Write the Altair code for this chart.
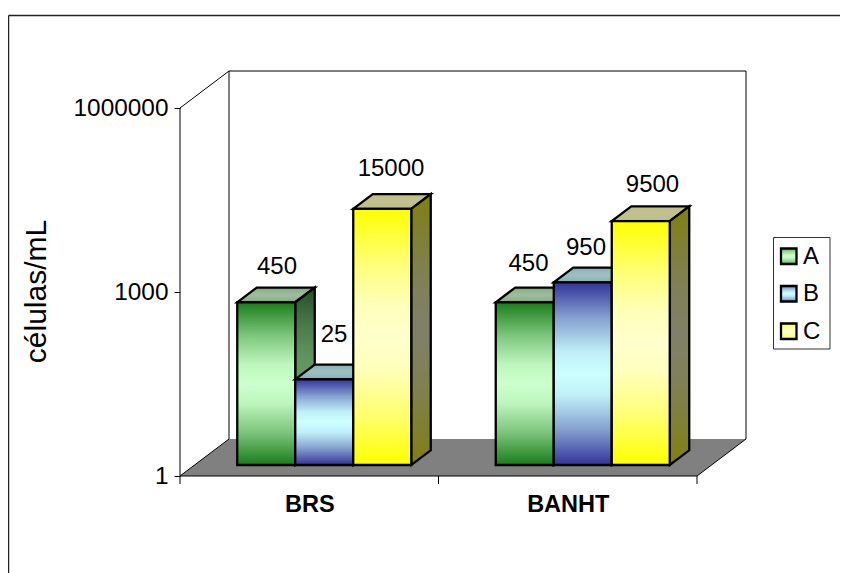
import altair as alt
import pandas as pd

categories = ["BRS", "BANHT"]
series = ["A", "B", "C"]
values_a = [450, 450]
values_b = [25, 950]
values_c = [15000, 9500]
y_ticks = [1, 1000, 1000000]
y_title = "células/mL"
FONT = "Liberation Sans"
FS = 24

# geometry of the pseudo-3D box, in pixels, converted to scale units below
W, H = 832, 565
OX, OY = 172, 468          # pixel position of (0, value 1) in the plot group
PXU = 258.5                # pixels per category
PXD = 61.33                # pixels per decade
WALL_DX, WALL_DY = 49, 37
PLANE_DX, PLANE_DY = 15, 11
BAR_DX, BAR_DY = 19.5, 14.7
BAR_W = 58 / PXU
GAP = 42.25 / PXU
SW = 2.3
# fine placement of the value labels (pixels, by category then series)
LABEL_NUDGE = {
    (0, 0): (1, 0.5), (0, 1): (0, -8), (0, 2): (-1, -4),
    (1, 0): (-6, -2), (1, 1): (-6.5, 1.5), (1, 2): (2, 0),
}


def ux(px):
    return px / PXU


def lift(v, px):
    return v * 10 ** (px / PXD)


xs = alt.Scale(domain=[-OX / PXU, (W - OX) / PXU], nice=False, zero=False)
ys = alt.Scale(type="log", nice=False,
               domain=[10 ** (-(H - OY) / PXD), 10 ** (OY / PXD)])


def mix(c1, c2, t):
    a = [int(c1[i:i + 2], 16) for i in (1, 3, 5)]
    b = [int(c2[i:i + 2], 16) for i in (1, 3, 5)]
    return "#" + "".join(f"{round(p + (q - p) * t):02x}" for p, q in zip(a, b))


def grad(ends, mid, start=0.0):
    stops = [(0, start), (0.2, 0.55 + 0.45 * start), (0.38, 0.92), (0.5, 1), (0.62, 0.92), (0.8, 0.55 + 0.45 * start), (1, start)]
    return alt.Gradient(gradient="linear", x1=0, y1=0, x2=0, y2=1, stops=[
        alt.GradientStop(color=mix(ends, mid, t), offset=o) for o, t in stops])


colors = {"A": ("#1a7d1a", "#ccffcc"), "B": ("#333399", "#ccffff"), "C": ("#ffff00", "#ffffcc")}
front = {k: grad(*v) for k, v in colors.items()}
legend_fill = {k: grad(*v, start=0.35) for k, v in colors.items()}
side = {"A": grad("#264d26", "#669966"), "B": grad("#1a1a4d", "#668080"), "C": grad("#808010", "#808066")}
top = {"A": grad("#7fa57f", "#9cbc9c"), "B": grad("#86adb0", "#9cc0c0"), "C": grad("#bdbd80", "#c0c090")}

cat_expr = f"datum.value < 1 ? '{categories[0]}' : '{categories[1]}'"
xaxis = alt.Axis(
    values=[0.5, 1.5], labelExpr=cat_expr, title=None, grid=False, domain=False, ticks=False,
    offset=-(H - OY), labelPadding=16, labelFont=FONT, labelFontSize=23.5, labelFontWeight="bold",
    labelColor="black", labelOverlap=False, labelFlush=False)
yaxis = alt.Axis(
    values=y_ticks, format="d", title=y_title, grid=False, domain=False, offset=-OX,
    tickSize=6, tickColor="black", labelPadding=6, labelFont=FONT, labelFontSize=24.4,
    labelColor="black", labelOverlap=False, labelFlush=False,
    titleFont=FONT, titleFontSize=30, titleFontWeight="normal", titleColor="black",
    titleX=-144, titleY=283, titleAngle=270, titleAlign="center", titleBaseline="middle")

X = lambda f: alt.X(f, scale=xs, axis=xaxis)
Y = lambda f: alt.Y(f, scale=ys, axis=yaxis, stack=None)
X2 = lambda f: alt.X2(f)
Y2 = lambda f: alt.Y2(f)

layers = []

# floor
floor = pd.DataFrame({"y": [1, lift(1, WALL_DY)], "x": [0, ux(WALL_DX)], "x2": [2, 2 + ux(WALL_DX)]})
layers.append(alt.Chart(floor).mark_area(orient="horizontal", fill="#808080").encode(
    x=X("x:Q"), x2=X2("x2:Q"), y=Y("y:Q")))

# wall and floor outlines
dxw = ux(WALL_DX)
ytop, yback, ytick = lift(1e6, WALL_DY), lift(1, WALL_DY), lift(1, -8)
lines = pd.DataFrame(
    [(0, 1e6, 0, ytick), (0, 1e6, dxw, ytop), (dxw, ytop, dxw, yback), (dxw, ytop, 2 + dxw, ytop),
     (2 + dxw, ytop, 2 + dxw, yback), (0, 1, dxw, yback), (2, 1, 2 + dxw, yback), (0, 1, 2, 1),
     (1, 1, 1, ytick), (2, 1, 2, ytick)],
    columns=["x", "y", "x2", "y2"])
layers.append(alt.Chart(lines).mark_rule(color="black", strokeWidth=1).encode(
    x=X("x:Q"), y=Y("y:Q"), x2=X2("x2:Q"), y2=Y2("y2:Q")))

# bars
all_values = {"A": values_a, "B": values_b, "C": values_c}
labels = []
dxb, dxp = ux(BAR_DX), ux(PLANE_DX)
for ci, cat in enumerate(categories):
    for si, s in enumerate(series):
        v = all_values[s][ci]
        x0 = ci + GAP + dxp + si * BAR_W
        x1 = x0 + BAR_W
        vf = lift(v, PLANE_DY)
        vb = lift(v, PLANE_DY + BAR_DY)
        bf = lift(1, PLANE_DY)
        bb = lift(1, PLANE_DY + BAR_DY)
        tdf = pd.DataFrame({"y": [vf, vb], "x": [x0, x0 + dxb], "x2": [x1, x1 + dxb]})
        layers.append(alt.Chart(tdf).mark_area(orient="horizontal", fill=top[s], stroke="black", strokeWidth=SW,
                                               strokeJoin="miter").encode(
            x=X("x:Q"), x2=X2("x2:Q"), y=Y("y:Q")))
        sdf = pd.DataFrame({"x": [x1, x1 + dxb], "y": [vf, vb], "y2": [bf, bb]})
        layers.append(alt.Chart(sdf).mark_area(orient="vertical", fill=side[s], stroke="black", strokeWidth=SW,
                                               strokeJoin="miter").encode(
            x=X("x:Q"), y=Y("y:Q"), y2=Y2("y2:Q")))
        fdf = pd.DataFrame({"x": [x0], "x2": [x1], "y": [vf], "y2": [bf]})
        layers.append(alt.Chart(fdf).mark_rect(fill=front[s], stroke="black", strokeWidth=SW).encode(
            x=X("x:Q"), x2=X2("x2:Q"), y=Y("y:Q"), y2=Y2("y2:Q")))
        ndx, ndy = LABEL_NUDGE[(ci, si)]
        labels.append({"x": (x0 + x1) / 2 + dxb / 2 + ux(ndx), "y": lift(vf, 36 - ndy), "t": str(v)})

layers.append(alt.Chart(pd.DataFrame(labels)).mark_text(font=FONT, fontSize=FS, color="black", baseline="middle").encode(
    x=X("x:Q"), y=Y("y:Q"), text="t:N"))

# outer frame (top and left edges are the ones inside the page)
d0 = pd.DataFrame({"a": [0]})
layers.append(alt.Chart(d0).mark_rule(color="#222222", strokeWidth=1.5).encode(
    x=alt.value(0.5), x2=alt.value(W), y=alt.value(7.5), y2=alt.value(7.5)))
layers.append(alt.Chart(d0).mark_rule(color="#222222", strokeWidth=1.5).encode(
    x=alt.value(0.5), x2=alt.value(0.5), y=alt.value(7.5), y2=alt.value(H)))

# legend
layers.append(alt.Chart(d0).mark_rect(fill="white", stroke="#333333", strokeWidth=1).encode(
    x=alt.value(765.5), x2=alt.value(822), y=alt.value(229.5), y2=alt.value(341)))
for i, s in enumerate(series):
    top_y = 240.5 + i * 37.5
    layers.append(alt.Chart(d0).mark_rect(fill=legend_fill[s], stroke="black", strokeWidth=SW).encode(
        x=alt.value(773), x2=alt.value(788.5), y=alt.value(top_y), y2=alt.value(top_y + 15.5)))
    layers.append(alt.Chart(pd.DataFrame({"t": [s]})).mark_text(
        font=FONT, fontSize=FS, color="black", align="left", baseline="middle").encode(
        x=alt.value(795), y=alt.value(top_y + 8), text="t:N"))

chart = alt.layer(*layers).properties(
    width=W, height=H, padding=0, background="white",
    autosize=alt.AutoSizeParams(type="none"),
).configure_view(stroke=None)

chart.save("out.html", embed_options={"renderer": "svg", "actions": False})
